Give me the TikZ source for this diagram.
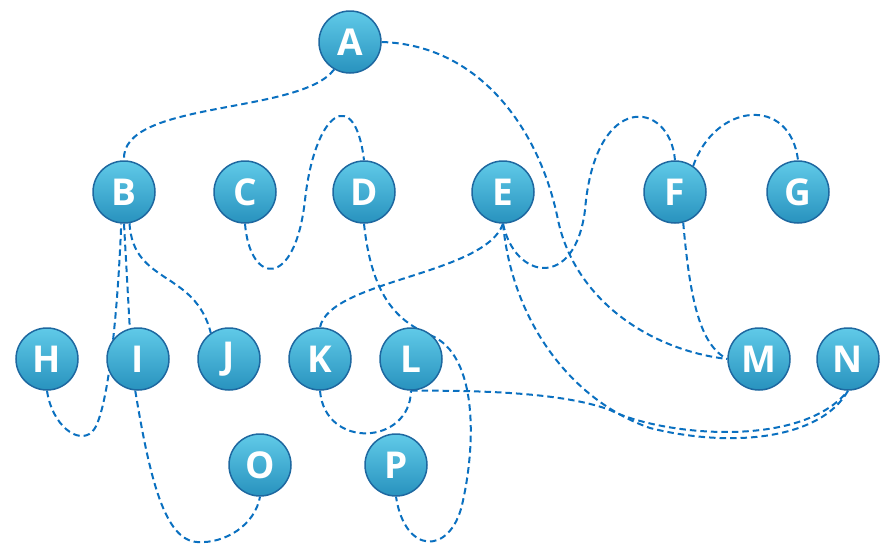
\documentclass[tikz,border=0pt]{standalone}
\usepackage{fontspec}
\setmainfont{Open Sans}
\usetikzlibrary{backgrounds}
\definecolor{linkblue}{RGB}{10,112,192}
\definecolor{beadtop}{RGB}{96,202,232}
\definecolor{beadmid}{RGB}{56,170,207}
\definecolor{beadbot}{RGB}{40,146,190}
\definecolor{beadrim}{RGB}{30,104,160}

\begin{document}
\begin{tikzpicture}[x=1pt, y=-1pt,
  bead/.style={shape=circle, draw=beadrim, line width=1.5pt, top color=beadtop, middle color=beadmid, bottom color=beadbot, minimum size=62pt, inner sep=0pt, text=white, font=\fontsize{37}{37}\selectfont\bfseries},
  link/.style={draw=linkblue, line width=2pt, dash pattern=on 6.5pt off 4pt}]
  \useasboundingbox (0,0) rectangle (881,544);

  \node[bead] (A) at (350,42) {A};
  \node[bead] (B) at (124,192) {B};
  \node[bead] (C) at (245,192) {C};
  \node[bead] (D) at (364,192) {D};
  \node[bead] (E) at (503,192) {E};
  \node[bead] (F) at (675,192) {F};
  \node[bead] (G) at (798,192) {G};
  \node[bead] (H) at (47,359) {H};
  \node[bead] (I) at (138,359) {I};
  \node[bead] (J) at (229,359) {J};
  \node[bead] (K) at (320,359) {K};
  \node[bead] (L) at (411,359) {L};
  \node[bead] (M) at (759,359) {M};
  \node[bead] (N) at (848,359) {N};
  \node[bead] (O) at (260,465) {O};
  \node[bead] (P) at (396,465) {P};

  \begin{pgfonlayer}{background}
  \draw[link] (A.240) .. controls (300,115) and (120,100) .. (B.north);
  \draw[link] (A.east) .. controls (480,45) and (540,130) .. (558,220) .. controls (575,300) and (650,350) .. (M.west);
  \draw[link] (C.south) .. controls (250,285) and (295,290) .. (305,200) .. controls (315,110) and (355,85) .. (D.north);
  \draw[link] (B.south) -- (I.105);
  \draw[link] (H.south) .. controls (52,425) and (78,445) .. (92,432) .. controls (106,419) and (117,330) .. (B.265);
  \draw[link] (B.280) .. controls (133,285) and (195,270) .. (J.125);
  \draw[link] (D.south) .. controls (372,300) and (400,322) .. (430,335) .. controls (480,355) and (475,450) .. (462,505) .. controls (450,555) and (405,555) .. (P.south);
  \draw[link] (E.south) .. controls (485,275) and (330,280) .. (K.north);
  \draw[link] (E.south) .. controls (515,280) and (575,290) .. (585,210) .. controls (595,90) and (670,100) .. (F.north);
  \draw[link] (E.south) .. controls (512,320) and (570,400) .. (650,428) .. controls (730,448) and (820,440) .. (N.south);
  \draw[link] (L.south) .. controls (500,390) and (570,395) .. (610,410) .. controls (660,435) and (800,450) .. (N.south);
  \draw[link] (K.south) .. controls (325,450) and (410,445) .. (L.south);
  \draw[link] (I.265) .. controls (150,480) and (165,540) .. (197,542) .. controls (225,544) and (255,525) .. (O.south);
  \draw[link] (F.55) .. controls (715,103) and (790,95) .. (G.north);
  \draw[link] (F.-75) .. controls (690,300) and (700,345) .. (M.west);
  \end{pgfonlayer}
\end{tikzpicture}
\end{document}
